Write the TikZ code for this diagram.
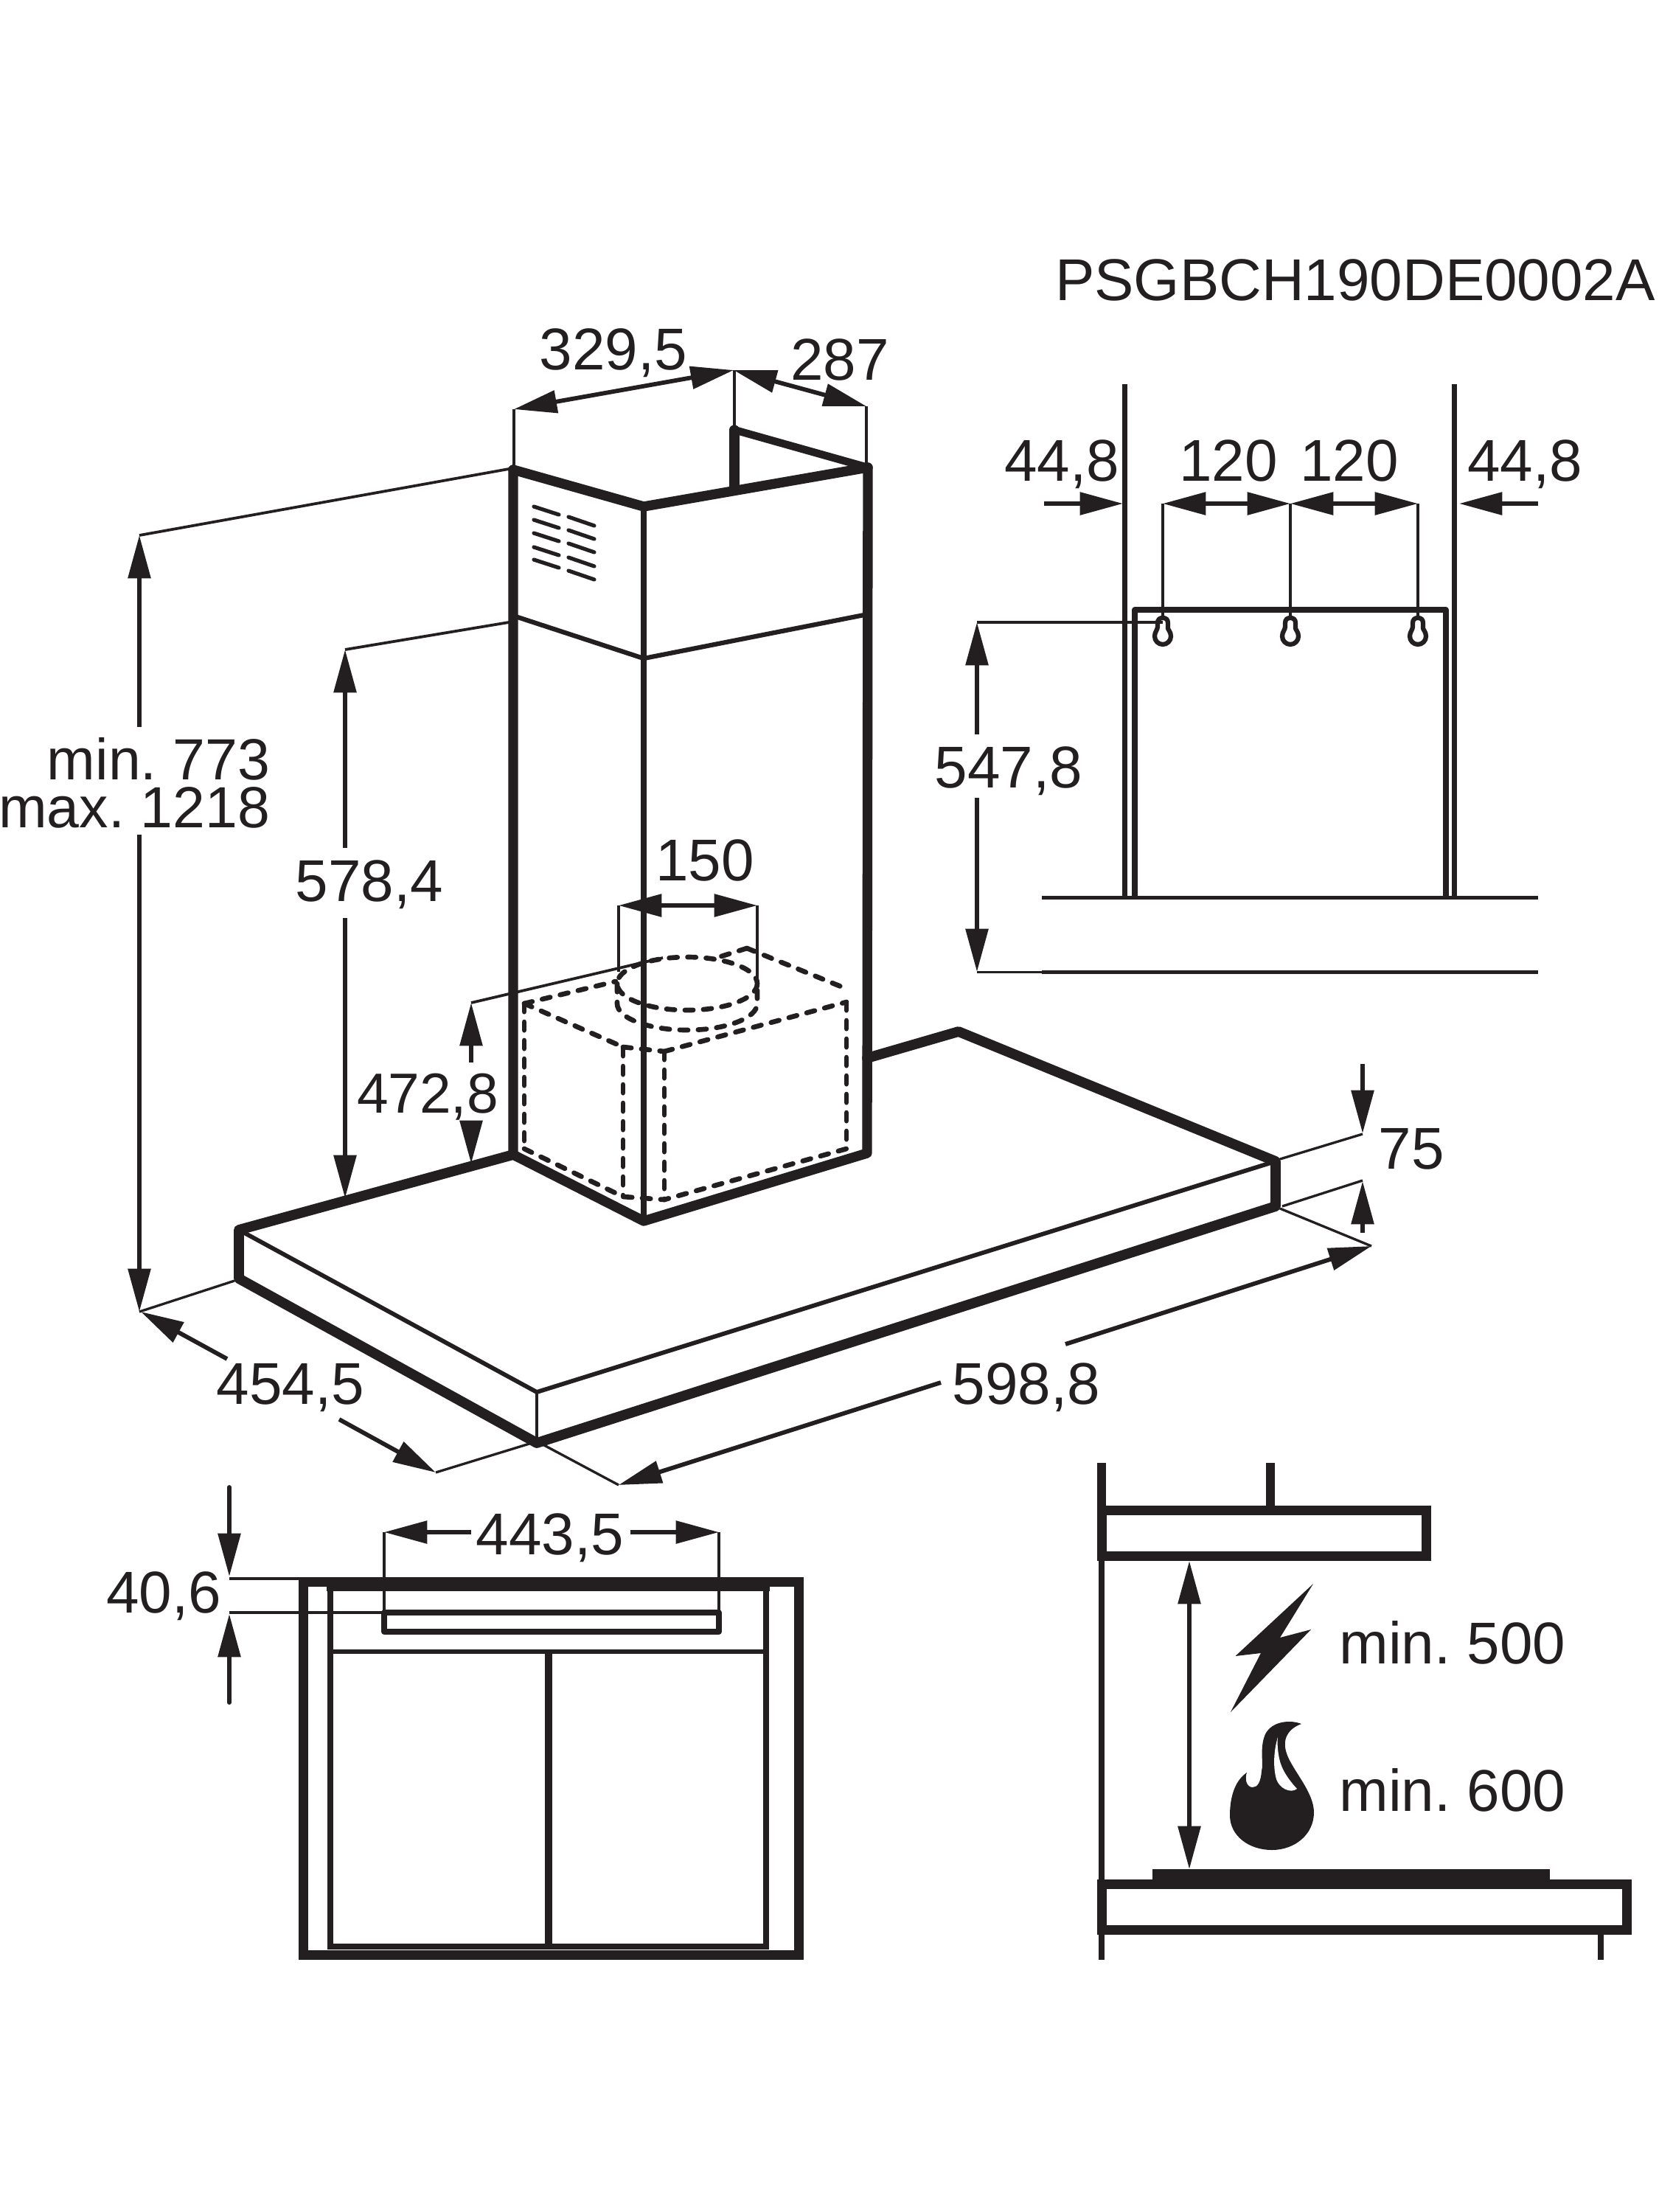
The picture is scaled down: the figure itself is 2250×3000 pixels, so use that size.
\documentclass[tikz,border=0pt]{standalone}
\usepackage{fontspec}
\setmainfont{Liberation Sans}
\usetikzlibrary{arrows.meta}
\definecolor{ink}{HTML}{231F20}
\tikzset{
  dimtip/.tip={Triangle[length=14pt,width=7.2pt]},
  lab/.style={inner sep=0pt,outer sep=0pt,text=ink,anchor=base,font=\fontsize{19.2pt}{20pt}\selectfont\frenchspacing},
  heavy/.style={draw=ink,line width=3.2pt,line join=round,line cap=round},
  mid/.style={draw=ink,line width=1.7pt,line join=miter},
  thinl/.style={draw=ink,line width=1.4pt},
  wit/.style={draw=ink,line width=.8pt},
  dimboth/.style={draw=ink,line width=1.4pt,dimtip-dimtip},
  dimend/.style={draw=ink,line width=1.4pt,-dimtip},
  dimline/.style={draw=ink,line width=1.4pt},
  hid/.style={draw=ink,line width=1.6pt,line cap=round,dash pattern=on 2.7pt off 3.3pt},
  slat/.style={draw=ink,line width=1.25pt,line cap=round},
}
\begin{document}
\begin{tikzpicture}[x=.24pt,y=-.24pt]
\useasboundingbox (0,0) rectangle (2250,3000);
\fill[white] (0,0) rectangle (2250,3000);

% --- chimney
\draw[heavy] (696,637) -- (873,687) -- (1177,634);
\draw[heavy,line width=2.5pt] (996,583) -- (1177,634);
\draw[heavy] (996,583) -- (996,662);
\draw[heavy] (696,637) -- (696,1566) -- (873,1656) -- (1176,1564) -- (1177,634);
\draw[mid] (873,687) -- (873,1656);
\draw[thinl,line width=1.5pt] (696,835) -- (873,893) -- (1177,833);
\foreach \y in {687,705,723,742,759} \draw[slat] (724,\y) -- (758,\y+11);
\foreach \y in {701,719,737,756,774} \draw[slat] (771,\y) -- (806,\y+12);

% --- hood body
\draw[heavy,line width=3.3pt] (696,1566) -- (324,1668) -- (324,1734) -- (728,1957) -- (1730,1636) -- (1730,1575) -- (1300,1399) -- (1176,1435);
\draw[thinl] (324,1668) -- (728,1888) -- (1730,1575);
\draw[thinl,line width=1pt] (728,1888) -- (728,1957);

% --- hidden motor box
\draw[hid] (711,1361) -- (845,1420);
\draw[hid] (845,1420) -- (901,1426);
\draw[hid] (901,1426) -- (1148,1359);
\draw[hid] (711,1361) -- (835,1331);
\draw[hid] (1013,1286) -- (975,1298);
\draw[hid] (1013,1286) -- (1148,1341);
\draw[hid] (711,1361) -- (711,1558);
\draw[hid] (1148,1359) -- (1148,1558);
\draw[hid] (845,1421) -- (845,1623);
\draw[hid] (901,1426) -- (901,1627);
\draw[hid] (711,1558) -- (845,1623) -- (901,1627) -- (1148,1558);
\draw[hid] (932,1334) ellipse [x radius=95,y radius=36];
\draw[hid] (837,1334) -- (837,1361) .. controls (837,1381) and (880,1397) .. (932,1397) .. controls (984,1397) and (1027,1381) .. (1027,1361) -- (1027,1334);

% --- chimney dimensions
\draw[wit] (697,555) -- (697,632);
\draw[wit] (996,502) -- (996,580);
\draw[wit] (1175,551) -- (1175,630);
\draw[dimboth] (697,555) -- (995,502);
\draw[dimboth] (995,502) -- (1175,551);
\node[lab] (d329) at (832,501) {329,5};
\node[lab] (d287) at (1139,515) {287};

% --- total height
\draw[wit,line width=.9pt] (189,726) -- (690,636);
\draw[dimline,dimtip-] (189,726) -- (189,986);
\draw[dimend] (189,1132) -- (189,1779);
\node[lab,anchor=base east,font=\fontsize{18.9pt}{20pt}\selectfont\frenchspacing] (dmin) at (366,1057) {min. 773};
\node[lab,anchor=base east,font=\fontsize{18.9pt}{20pt}\selectfont\frenchspacing] (dmax) at (366,1122) {max. 1218};
\draw[wit] (189,1779) -- (318,1737);

% --- 578,4
\draw[wit,line width=.9pt] (468,881) -- (690,844);
\draw[dimline,dimtip-] (468,881) -- (468,1150);
\draw[dimend] (468,1245) -- (468,1625);
\node[lab] (d578) at (501,1222) {578,4};

% --- 472,8
\draw[wit,line width=.9pt] (639,1360) -- (899,1299);
\draw[dimline,dimtip-] (639,1360) -- (639,1441);
\draw[dimend] (639,1523) -- (639,1578);
\node[lab,font=\fontsize{18.4pt}{20pt}\selectfont] (d472) at (580,1509) {472,8};

% --- 150
\draw[wit] (839,1228) -- (839,1318);
\draw[wit] (1027,1228) -- (1027,1337);
\draw[dimboth] (839,1228) -- (1027,1228);
\node[lab] (d150) at (956,1194) {150};

% --- 75
\draw[dimend] (1848,1443) -- (1848,1537);
\draw[wit] (1848,1538) -- (1736,1572);
\draw[wit] (1848,1601) -- (1739,1636);
\draw[dimend] (1848,1672) -- (1848,1602);
\node[lab] (d75) at (1914,1585) {75};

% --- 598,8
\draw[wit] (1736,1639) -- (1860,1690);
\draw[wit] (736,1959) -- (839,2014);
\draw[dimline,-dimtip] (1445,1823) -- (1860,1690);
\draw[dimline,-dimtip] (1276,1875) -- (839,2014);
\node[lab] (d598) at (1392,1904) {598,8};

% --- 454,5
\draw[wit] (718,1958) -- (591,1997);
\draw[dimline,-dimtip] (308,1843) -- (191,1779);
\draw[dimline,-dimtip] (460,1925) -- (591,1997);
\node[lab] (d454) at (394,1904) {454,5};

% --- wall plate view
\draw[mid] (1525.5,521) -- (1525.5,1217);
\draw[mid] (1972.5,521) -- (1972.5,1217);
\draw[mid,line join=round] (1539,1217) -- (1539,827) -- (1961,827) -- (1961,1217);
\draw[thinl] (1413,1217.5) -- (2085.5,1217.5);
\draw[thinl] (1413,1318.5) -- (2085.5,1318.5);
\foreach \k in {1577,1750,1923}{
  \draw[wit,line width=.9pt] (\k,683) -- (\k,836);
  \draw[draw=ink,line width=1.5pt] (\k-7,850) -- (\k-7,845) .. controls (\k-7,840) and (\k-4,838) .. (\k,838) .. controls (\k+4,838) and (\k+7,840) .. (\k+7,845) -- (\k+7,852) .. controls (\k+7,854) and (\k+11,857) .. (\k+11,863) .. controls (\k+11,869) and (\k+6,874) .. (\k,874) .. controls (\k-6,874) and (\k-11,869) .. (\k-11,863) .. controls (\k-11,857) and (\k-7,854) .. (\k-7,850) -- cycle;
}
\draw[dimboth] (1577,683) -- (1750,683);
\draw[dimboth] (1750,683) -- (1923,683);
\draw[dimend] (1416,683) -- (1523,683);
\draw[dimend] (2085.5,683) -- (1979,683);
\node[lab] (dl) at (1440,652) {44,8};
\node[lab] (d120a) at (1666,652) {120};
\node[lab] (d120b) at (1830,652) {120};
\node[lab] (dr) at (2068,652) {44,8};
\draw[wit] (1325,844) -- (1577,844);
\draw[wit] (1325,1318.5) -- (1413,1318.5);
\draw[dimline,dimtip-] (1325,844) -- (1325,996);
\draw[dimend] (1325,1082) -- (1325,1318);
\node[lab] (d547) at (1368,1068) {547,8};
\node[lab,font=\fontsize{19.2pt}{21pt}\selectfont] (code) at (1838,407) {PSGBCH190DE0002A};

% --- front view
\draw[draw=ink,line width=3.1pt] (411.5,2145.5) rectangle (1083.5,2651.5);
\draw[draw=ink,line width=1.7pt] (448,2150) rectangle (1039,2640);
\fill[ink] (443,2139) rectangle (1044,2158);
\draw[draw=ink,line width=1.4pt] (448,2240) -- (1039,2240);
\draw[draw=ink,line width=2.4pt] (744,2240) -- (744,2640);
\draw[mid,line join=round] (521,2187) rectangle (975,2213);
\draw[wit] (521,2078) -- (521,2187);
\draw[wit] (975,2078) -- (975,2187);
\draw[dimline,dimtip-] (521,2078) -- (639,2078);
\draw[dimline,-dimtip] (855,2078) -- (975,2078);
\node[lab] (d443) at (746,2108) {443,5};
\draw[wit,line width=.9pt] (311,2141) -- (405,2141);
\draw[wit,line width=.9pt] (311,2187) -- (521,2187);
\draw[dimend,line cap=round] (311,2017) -- (311,2138);
\draw[dimend,line cap=round] (311,2309) -- (311,2189);
\node[lab] (d40) at (222,2187) {40,6};

% --- side view
\draw[draw=ink,line width=2.9pt] (1494,1984) -- (1494,2042);
\draw[draw=ink,line width=2.9pt] (1723,1984) -- (1723,2042);
\draw[draw=ink,line width=3.1pt] (1494.5,2048.5) rectangle (1934.5,2110.5);
\draw[draw=ink,line width=1.7pt] (1494,2117) -- (1494,2549);
\fill[ink] (1563,2535) rectangle (2102,2552);
\draw[draw=ink,line width=3.1pt] (1494.5,2555.5) rectangle (2206.5,2617.5);
\draw[draw=ink,line width=1.7pt] (1494,2624) -- (1494,2658);
\draw[draw=ink,line width=1.7pt] (2171,2624) -- (2171,2658);
\draw[dimboth] (1613,2117) -- (1613,2535);
\fill[ink] (1781,2148) -- (1736,2221) -- (1778,2210) -- (1669,2322) -- (1710,2242) -- (1675.5,2246) -- cycle;
\fill[ink] (1765,2338) .. controls (1750,2332) and (1725,2334) .. (1716,2352) .. controls (1708,2370) and (1714,2392) .. (1711,2402) .. controls (1710,2416) and (1706,2424) .. (1699,2424) .. controls (1690,2424) and (1688,2412) .. (1691,2404) .. controls (1676,2414) and (1668,2435) .. (1668,2462) .. controls (1668,2490) and (1694,2509) .. (1725,2509) .. controls (1756,2509) and (1782,2488) .. (1782,2458) .. controls (1782,2430) and (1752,2400) .. (1745,2378) .. controls (1738,2358) and (1748,2344) .. (1765,2338) -- cycle;
\fill[white] (1733,2356) .. controls (1728,2372) and (1726,2395) .. (1731,2413) .. controls (1735,2425) and (1750,2433) .. (1759,2426) .. controls (1748,2414) and (1738,2400) .. (1735,2385) .. controls (1733,2375) and (1732,2365) .. (1733,2356) -- cycle;
\node[lab] (m500) at (1970,2256) {min. 500};
\node[lab] (m600) at (1970,2456) {min. 600};
\end{tikzpicture}
\end{document}
